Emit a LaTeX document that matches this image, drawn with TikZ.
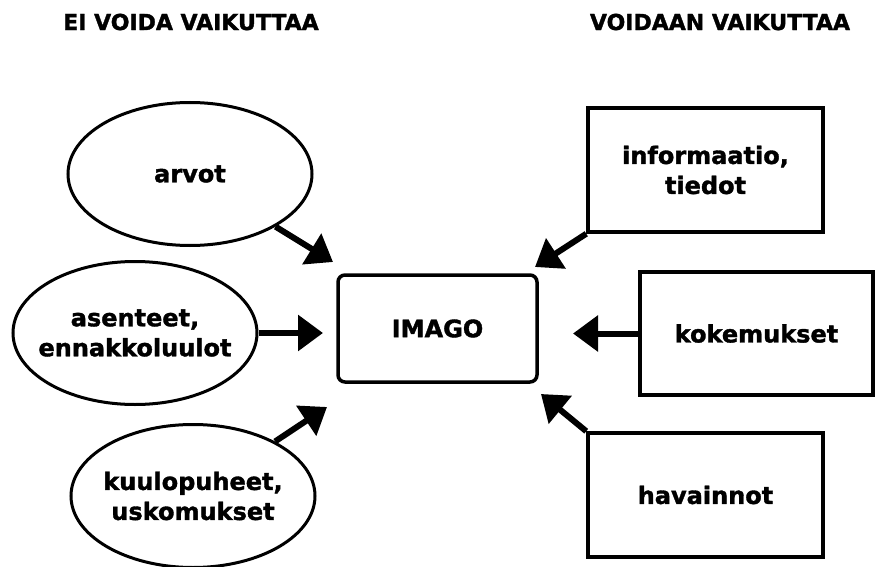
\documentclass[tikz,border=0pt]{standalone}
\usepackage{fontspec}
\setmainfont{DejaVu Sans}[BoldFeatures={FakeBold=1.5}]
\usetikzlibrary{shapes.geometric,arrows.meta}
\tikzset{
  lbl/.style={font=\bfseries\fontsize{24}{30}\selectfont, align=center},
  ttl/.style={font=\bfseries\fontsize{22}{26}\selectfont},
  oval/.style={lbl, ellipse, draw, line width=3pt, minimum width=244pt, minimum height=143pt, inner xsep=-14pt, inner ysep=0pt},
  box/.style={lbl, rectangle, draw, line width=3.5pt, minimum width=235pt, minimum height=124pt, inner sep=0pt},
  imago/.style={lbl, rectangle, draw, line width=3.5pt, rounded corners=7pt, minimum width=199pt, minimum height=107pt, inner sep=0pt},
  arr/.style={line width=6pt, -{Triangle[length=25pt,width=35pt]}}
}
\begin{document}
\begin{tikzpicture}[x=1pt,y=-1pt]
\useasboundingbox (0,0) rectangle (876,567);
\node[ttl] (tl) at (191,22) {EI VOIDA VAIKUTTAA};
\node[ttl] (tr) at (720,22) {VOIDAAN VAIKUTTAA};

\node[oval] (arvot) at (190,174) {arvot};
\node[oval] (asenteet) at (135,333) {asenteet,\\ennakkoluulot};
\node[oval] (kuulo) at (193,496) {kuulopuheet,\\uskomukset};

\node[imago] (img) at (437.5,328.5) {IMAGO};

\node[box] (info) at (705.5,170) {informaatio,\\tiedot};
\node[box, minimum width=233pt, minimum height=123pt] (kok) at (756.5,333.5) {kokemukset};
\node[box] (hav) at (705.5,495) {havainnot};

\coordinate (t1) at (333,262);
\coordinate (t2) at (323,333);
\coordinate (t3) at (327,407);
\coordinate (t4) at (535,267);
\coordinate (t5) at (573,333.5);
\coordinate (t6) at (541,394);

\draw[arr] (arvot) -- (t1);
\draw[arr] (asenteet.east) -- (t2);
\draw[arr] (kuulo) -- (t3);
\draw[arr] (info.south west) -- (t4);
\draw[arr] (kok.west) -- (t5);
\draw[arr] (hav.north west) -- (t6);
\end{tikzpicture}
\end{document}
